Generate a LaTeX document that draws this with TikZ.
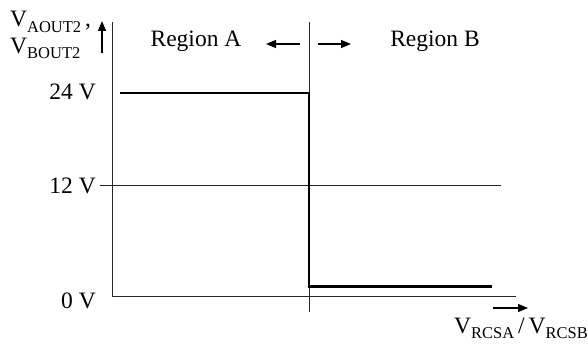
\documentclass[tikz,border=0pt]{standalone}
\usepackage{fontspec}
\setmainfont{Liberation Serif}
\usetikzlibrary{arrows.meta}
\tikzset{
  axis/.style={line width=0.9pt, draw=black!85},
  arr/.style={line width=1.2pt, -{Triangle[length=10pt,width=8pt]}},
  lab/.style={font=\fontsize{23.5}{26}\selectfont, inner sep=0pt},
}
\newcommand{\mysub}[1]{\raisebox{-0.22em}{\fontsize{16.5}{17}\selectfont #1}}
\begin{document}
\begin{tikzpicture}[x=1pt,y=-1pt]
\useasboundingbox (0,0) rectangle (588,345);
% axes
\coordinate (o) at (112,296);
\coordinate (ytop) at (112,22);
\coordinate (xend) at (516,296);
\draw[axis] (ytop) -- (o) -- (xend);
% 12V reference line
\coordinate (m1) at (100,185.5);
\coordinate (m2) at (501,185.5);
\draw[axis] (m1) -- (m2);
% divider
\coordinate (d1) at (309.5,22);
\coordinate (d2) at (309.5,312);
\draw[axis] (d1) -- (d2);
% signal
\coordinate (s1) at (120,93);
\coordinate (s2) at (309,93);
\coordinate (s3) at (309,286.5);
\coordinate (s4) at (492,286.5);
\draw[line width=2.5pt] (s1) -- (s2) -- (s3) -- (s4);
% arrows
\coordinate (ua1) at (102,53);
\coordinate (ua2) at (102,21);
\draw[arr] (ua1) -- (ua2);
\coordinate (la1) at (300,44);
\coordinate (la2) at (266,44);
\draw[arr] (la1) -- (la2);
\coordinate (ra1) at (318,44);
\coordinate (ra2) at (351,44);
\draw[arr] (ra1) -- (ra2);
\coordinate (ba1) at (493,308);
\coordinate (ba2) at (528,308);
\draw[arr] (ba1) -- (ba2);
% labels
\node[lab, anchor=base west] (ya) at (10,27) {V\mysub{AOUT2}\,,};
\node[lab, anchor=base west] (yb) at (10,53) {V\mysub{BOUT2}};
\node[lab, anchor=base east] (l24) at (96,99) {24 V};
\node[lab, anchor=base east] (l12) at (96,193) {12 V};
\node[lab, anchor=base east] (l0) at (96,308) {0 V};
\node[lab, anchor=base] (ra) at (196,46) {Region A};
\node[lab, anchor=base] (rb) at (435,46) {Region B};
\node[lab, anchor=base east] (xl) at (588,333) {V\mysub{RCSA}\,/\,V\mysub{RCSB}};
\end{tikzpicture}
\end{document}
